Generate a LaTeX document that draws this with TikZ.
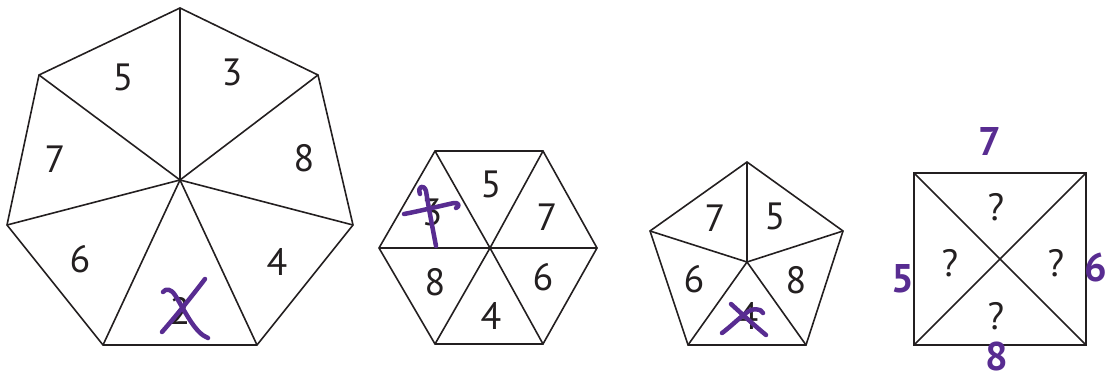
\documentclass[tikz,border=0pt]{standalone}
\usepackage{fontspec}
\setmainfont{PT Sans}
\usepackage{xcolor}
\usepackage{tikz}
\usetikzlibrary{positioning}
\definecolor{inkc}{RGB}{35,31,32}
\definecolor{penc}{RGB}{88,44,145}
\tikzset{
  edge/.style={draw=inkc,line width=1.6pt,line join=miter},
  num/.style={text=inkc,font=\fontsize{38}{40}\selectfont,inner sep=0pt},
  penstroke/.style={draw=penc,line width=4.5pt,line cap=round,line join=round},
  pennum/.style={text=penc,font=\fontsize{40}{42}\selectfont\bfseries,inner sep=0pt},
}

\begin{document}
\begin{tikzpicture}[x=1pt,y=-1pt]
  \useasboundingbox (0,0) rectangle (1110,379);
  % heptagon
  \coordinate (hc) at (180,180);
  \foreach \n/\x/\y in {1/180/8,2/318/75,3/353/225,4/257/345,5/103/345,6/7/225,7/39/75}
    \coordinate (h\n) at (\x,\y);
  \draw[edge] (h1)--(h2)--(h3)--(h4)--(h5)--(h6)--(h7)--cycle;
  \foreach \n in {1,...,7} \draw[edge] (hc)--(h\n);
  \node[num] (hep-5) at (123,77) {5};
  \node[num] (hep-3) at (232,72) {3};
  \node[num] (hep-8) at (304,158) {8};
  \node[num] (hep-4) at (277,262) {4};
  \node[num] (hep-2) at (180,311) {2};
  \node[num] (hep-6) at (80,259) {6};
  \node[num] (hep-7) at (55,159) {7};
  \draw[penstroke] (205,279) .. controls (192,296) and (176,316) .. (162,332);
  \draw[penstroke] (163,292) .. controls (166,288) and (171,289) .. (175,295)
    .. controls (186,313) and (195,333) .. (208,338);

  % hexagon
  \coordinate (xc) at (490,248);
  \foreach \n/\x/\y in {1/435/151,2/543/151,3/597/248,4/543/344,5/435/344,6/379/248}
    \coordinate (x\n) at (\x,\y);
  \draw[edge] (x1)--(x2)--(x3)--(x4)--(x5)--(x6)--cycle;
  \foreach \n in {1,...,6} \draw[edge] (xc)--(x\n);
  \node[num] (hex-3) at (432,212) {3};
  \node[num] (hex-5) at (491,184) {5};
  \node[num] (hex-7) at (547,217) {7};
  \node[num] (hex-6) at (543,277) {6};
  \node[num] (hex-4) at (491,316) {4};
  \node[num] (hex-8) at (435,282) {8};
  \draw[penstroke] (420,194) .. controls (417,186) and (424,184) .. (426,191)
    .. controls (429,210) and (433,230) .. (436,246);
  \draw[penstroke] (404,214) .. controls (420,211) and (440,206) .. (454,203)
    .. controls (459,202) and (460,207) .. (456,208);

  % pentagon
  \coordinate (pc) at (747,262);
  \foreach \n/\x/\y in {1/747/162,2/843/231,3/806/345,4/688/345,5/650/231}
    \coordinate (p\n) at (\x,\y);
  \draw[edge] (p1)--(p2)--(p3)--(p4)--(p5)--cycle;
  \foreach \n in {1,...,5} \draw[edge] (pc)--(p\n);
  \node[num] (pen-7) at (715,218) {7};
  \node[num] (pen-5) at (775,216) {5};
  \node[num] (pen-8) at (796,280) {8};
  \node[num] (pen-4) at (748,316) {4};
  \node[num] (pen-6) at (694,279) {6};
  \draw[penstroke] (731,304) .. controls (742,314) and (755,326) .. (766,335);
  \draw[penstroke] (763,313) .. controls (761,308) and (752,308) .. (746,313)
    .. controls (737,320) and (729,328) .. (722,333);

  % square
  \coordinate (s1) at (914,173);
  \coordinate (s2) at (1086,173);
  \coordinate (s3) at (1086,345);
  \coordinate (s4) at (914,345);
  \draw[edge] (s1)--(s2)--(s3)--(s4)--cycle;
  \draw[edge] (s1)--(s3);
  \draw[edge] (s2)--(s4);
  \node[num] (sq-top) at (996,207) {?};
  \node[num] (sq-left) at (950,263) {?};
  \node[num] (sq-right) at (1056,263) {?};
  \node[num] (sq-bot) at (996,316) {?};
  \node[pennum] (hw-7) at (990,142) {7};
  \node[pennum] (hw-5) at (903,279) {5};
  \node[pennum] (hw-6) at (1096,267) {6};
  \node[pennum] (hw-8) at (997,356) {8};
\end{tikzpicture}
\end{document}
